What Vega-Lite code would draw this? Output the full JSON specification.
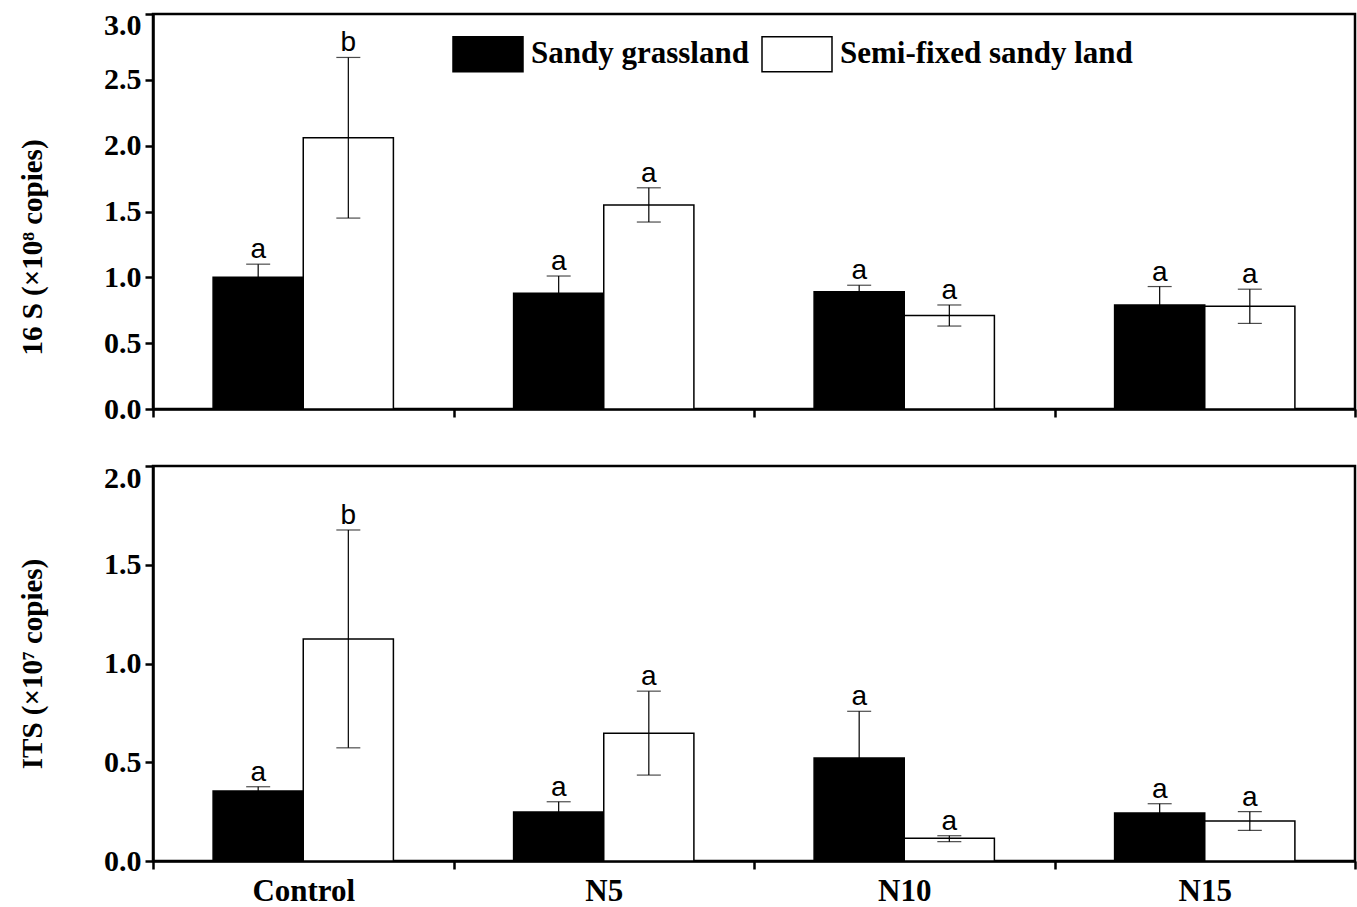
{
  "$schema": "https://vega.github.io/schema/vega-lite/v6.json",
  "background": "white",
  "padding": {"left": 17, "top": 8, "right": 2, "bottom": 2},
  "spacing": 35,
  "datasets": {
    "qpcr": [
      {"panel": "16S", "group": "Control", "site": "Sandy grassland", "mean": 1.00, "lo": 0.90, "hi": 1.10, "label": "a"},
      {"panel": "16S", "group": "Control", "site": "Semi-fixed sandy land", "mean": 2.06, "lo": 1.45, "hi": 2.67, "label": "b"},
      {"panel": "16S", "group": "N5", "site": "Sandy grassland", "mean": 0.88, "lo": 0.75, "hi": 1.01, "label": "a"},
      {"panel": "16S", "group": "N5", "site": "Semi-fixed sandy land", "mean": 1.55, "lo": 1.42, "hi": 1.68, "label": "a"},
      {"panel": "16S", "group": "N10", "site": "Sandy grassland", "mean": 0.89, "lo": 0.84, "hi": 0.94, "label": "a"},
      {"panel": "16S", "group": "N10", "site": "Semi-fixed sandy land", "mean": 0.71, "lo": 0.63, "hi": 0.79, "label": "a"},
      {"panel": "16S", "group": "N15", "site": "Sandy grassland", "mean": 0.79, "lo": 0.65, "hi": 0.93, "label": "a"},
      {"panel": "16S", "group": "N15", "site": "Semi-fixed sandy land", "mean": 0.78, "lo": 0.65, "hi": 0.91, "label": "a"},
      {"panel": "ITS", "group": "Control", "site": "Sandy grassland", "mean": 0.355, "lo": 0.335, "hi": 0.376, "label": "a"},
      {"panel": "ITS", "group": "Control", "site": "Semi-fixed sandy land", "mean": 1.124, "lo": 0.573, "hi": 1.676, "label": "b"},
      {"panel": "ITS", "group": "N5", "site": "Sandy grassland", "mean": 0.248, "lo": 0.196, "hi": 0.30, "label": "a"},
      {"panel": "ITS", "group": "N5", "site": "Semi-fixed sandy land", "mean": 0.647, "lo": 0.435, "hi": 0.86, "label": "a"},
      {"panel": "ITS", "group": "N10", "site": "Sandy grassland", "mean": 0.522, "lo": 0.286, "hi": 0.758, "label": "a"},
      {"panel": "ITS", "group": "N10", "site": "Semi-fixed sandy land", "mean": 0.115, "lo": 0.098, "hi": 0.128, "label": "a"},
      {"panel": "ITS", "group": "N15", "site": "Sandy grassland", "mean": 0.243, "lo": 0.196, "hi": 0.29, "label": "a"},
      {"panel": "ITS", "group": "N15", "site": "Semi-fixed sandy land", "mean": 0.202, "lo": 0.155, "hi": 0.25, "label": "a"}
    ]
  },
  "data": {"name": "qpcr"},
  "resolve": {"legend": {"fill": "independent"}, "scale": {"y": "independent"}},
  "vconcat": [
    {
      "width": 1202,
      "height": 395,
      "transform": [{"filter": "datum.panel == '16S'"}],
      "encoding": {
        "x": {"field": "group", "type": "nominal", "sort": ["Control", "N5", "N10", "N15"],
              "scale": {"paddingInner": 0, "paddingOuter": 0},
              "axis": {"labels": false, "title": null, "tickBand": "extent"}},
        "xOffset": {"field": "site", "type": "nominal", "sort": ["Sandy grassland", "Semi-fixed sandy land"],
                    "scale": {"paddingInner": 0, "paddingOuter": 0.6667}}
      },
      "layer": [
        {
          "mark": {"type": "bar", "stroke": "black", "strokeWidth": 1.5},
          "encoding": {
            "y": {"field": "mean", "type": "quantitative", "scale": {"domain": [0, 3], "nice": false},
                  "axis": {"values": [0, 0.5, 1, 1.5, 2, 2.5, 3], "format": ".1f", "title": "16 S (×10⁸ copies)", "titlePadding": 56, "labelPadding": 4, "titleY": 233,
                           "labelBaseline": {"condition": {"test": "datum.value == 3", "value": "top"}, "value": "middle"},
                           "labelOffset": {"condition": {"test": "datum.value == 3", "value": -4}, "value": 0}}},
            "fill": {"field": "site", "type": "nominal", "sort": ["Sandy grassland", "Semi-fixed sandy land"],
                     "scale": {"domain": ["Sandy grassland", "Semi-fixed sandy land"], "range": ["black", "white"]},
                     "legend": {"orient": "none", "legendX": 299, "legendY": 4, "direction": "horizontal", "title": null,
                                "symbolType": "M-1,-0.5H1V0.5H-1Z", "symbolSize": 4900, "symbolStrokeColor": "black", "symbolStrokeWidth": 1.5,
                                "labelFont": "Liberation Serif", "labelFontWeight": "bold", "labelFontSize": 31, "labelColor": "black",
                                "labelOffset": 7, "columnPadding": 10, "labelLimit": 0}}
          }
        },
        {
          "mark": {"type": "rule", "color": "black", "strokeWidth": 1.2},
          "encoding": {
            "y": {"field": "lo", "type": "quantitative",
                  "axis": {"values": [0, 0.5, 1, 1.5, 2, 2.5, 3], "format": ".1f", "title": "16 S (×10⁸ copies)", "titlePadding": 56, "labelPadding": 4, "titleY": 233,
                           "labelBaseline": {"condition": {"test": "datum.value == 3", "value": "top"}, "value": "middle"},
                           "labelOffset": {"condition": {"test": "datum.value == 3", "value": -4}, "value": 0}}},
            "y2": {"field": "hi"}
          }
        },
        {
          "mark": {"type": "tick", "color": "black", "thickness": 1.2, "size": 24},
          "encoding": {"y": {"field": "hi", "type": "quantitative",
                  "axis": {"values": [0, 0.5, 1, 1.5, 2, 2.5, 3], "format": ".1f", "title": "16 S (×10⁸ copies)", "titlePadding": 56, "labelPadding": 4, "titleY": 233,
                           "labelBaseline": {"condition": {"test": "datum.value == 3", "value": "top"}, "value": "middle"},
                           "labelOffset": {"condition": {"test": "datum.value == 3", "value": -4}, "value": 0}}}}
        },
        {
          "mark": {"type": "tick", "color": "black", "thickness": 1.2, "size": 24},
          "encoding": {"y": {"field": "lo", "type": "quantitative",
                  "axis": {"values": [0, 0.5, 1, 1.5, 2, 2.5, 3], "format": ".1f", "title": "16 S (×10⁸ copies)", "titlePadding": 56, "labelPadding": 4, "titleY": 233,
                           "labelBaseline": {"condition": {"test": "datum.value == 3", "value": "top"}, "value": "middle"},
                           "labelOffset": {"condition": {"test": "datum.value == 3", "value": -4}, "value": 0}}}}
        },
        {
          "mark": {"type": "text", "font": "Liberation Sans", "fontSize": 28, "baseline": "alphabetic", "dy": -6, "color": "black"},
          "encoding": {
            "y": {"field": "hi", "type": "quantitative",
                  "axis": {"values": [0, 0.5, 1, 1.5, 2, 2.5, 3], "format": ".1f", "title": "16 S (×10⁸ copies)", "titlePadding": 56, "labelPadding": 4, "titleY": 233,
                           "labelBaseline": {"condition": {"test": "datum.value == 3", "value": "top"}, "value": "middle"},
                           "labelOffset": {"condition": {"test": "datum.value == 3", "value": -4}, "value": 0}}},
            "text": {"field": "label"}
          }
        }
      ]
    },
    {
      "width": 1202,
      "height": 395,
      "transform": [{"filter": "datum.panel == 'ITS'"}],
      "encoding": {
        "x": {"field": "group", "type": "nominal", "sort": ["Control", "N5", "N10", "N15"],
              "scale": {"paddingInner": 0, "paddingOuter": 0},
              "axis": {"title": null, "tickBand": "extent", "labelAngle": 0, "labelPadding": 7, "labelFontSize": 31}},
        "xOffset": {"field": "site", "type": "nominal", "sort": ["Sandy grassland", "Semi-fixed sandy land"],
                    "scale": {"paddingInner": 0, "paddingOuter": 0.6667}}
      },
      "layer": [
        {
          "mark": {"type": "bar", "stroke": "black", "strokeWidth": 1.5},
          "encoding": {
            "y": {"field": "mean", "type": "quantitative", "scale": {"domain": [0, 2], "nice": false},
                  "axis": {"values": [0, 0.5, 1, 1.5, 2], "format": ".1f", "title": "ITS (×10⁷ copies)", "titlePadding": 56, "labelPadding": 4,
                           "labelBaseline": {"condition": {"test": "datum.value == 2", "value": "top"}, "value": "middle"},
                           "labelOffset": {"condition": {"test": "datum.value == 2", "value": -3}, "value": 0}}},
            "fill": {"field": "site", "type": "nominal", "sort": ["Sandy grassland", "Semi-fixed sandy land"],
                     "scale": {"domain": ["Sandy grassland", "Semi-fixed sandy land"], "range": ["black", "white"]},
                     "legend": null}
          }
        },
        {
          "mark": {"type": "rule", "color": "black", "strokeWidth": 1.2},
          "encoding": {
            "y": {"field": "lo", "type": "quantitative",
                  "axis": {"values": [0, 0.5, 1, 1.5, 2], "format": ".1f", "title": "ITS (×10⁷ copies)", "titlePadding": 56, "labelPadding": 4,
                           "labelBaseline": {"condition": {"test": "datum.value == 2", "value": "top"}, "value": "middle"},
                           "labelOffset": {"condition": {"test": "datum.value == 2", "value": -3}, "value": 0}}},
            "y2": {"field": "hi"}
          }
        },
        {
          "mark": {"type": "tick", "color": "black", "thickness": 1.2, "size": 24},
          "encoding": {"y": {"field": "hi", "type": "quantitative",
                  "axis": {"values": [0, 0.5, 1, 1.5, 2], "format": ".1f", "title": "ITS (×10⁷ copies)", "titlePadding": 56, "labelPadding": 4,
                           "labelBaseline": {"condition": {"test": "datum.value == 2", "value": "top"}, "value": "middle"},
                           "labelOffset": {"condition": {"test": "datum.value == 2", "value": -3}, "value": 0}}}}
        },
        {
          "mark": {"type": "tick", "color": "black", "thickness": 1.2, "size": 24},
          "encoding": {"y": {"field": "lo", "type": "quantitative",
                  "axis": {"values": [0, 0.5, 1, 1.5, 2], "format": ".1f", "title": "ITS (×10⁷ copies)", "titlePadding": 56, "labelPadding": 4,
                           "labelBaseline": {"condition": {"test": "datum.value == 2", "value": "top"}, "value": "middle"},
                           "labelOffset": {"condition": {"test": "datum.value == 2", "value": -3}, "value": 0}}}}
        },
        {
          "mark": {"type": "text", "font": "Liberation Sans", "fontSize": 28, "baseline": "alphabetic", "dy": -6, "color": "black"},
          "encoding": {
            "y": {"field": "hi", "type": "quantitative",
                  "axis": {"values": [0, 0.5, 1, 1.5, 2], "format": ".1f", "title": "ITS (×10⁷ copies)", "titlePadding": 56, "labelPadding": 4,
                           "labelBaseline": {"condition": {"test": "datum.value == 2", "value": "top"}, "value": "middle"},
                           "labelOffset": {"condition": {"test": "datum.value == 2", "value": -3}, "value": 0}}},
            "text": {"field": "label"}
          }
        }
      ]
    }
  ],
  "config": {
    "view": {"stroke": "black", "strokeWidth": 2.5},
    "axis": {
      "grid": false,
      "domainColor": "black", "domainWidth": 2.5,
      "tickColor": "black", "tickWidth": 2.5, "tickSize": 8,
      "labelFont": "Liberation Serif", "labelFontWeight": "bold", "labelFontSize": 30, "labelColor": "black",
      "titleFont": "Liberation Serif", "titleFontWeight": "bold", "titleFontSize": 29, "titleColor": "black"
    }
  }
}
